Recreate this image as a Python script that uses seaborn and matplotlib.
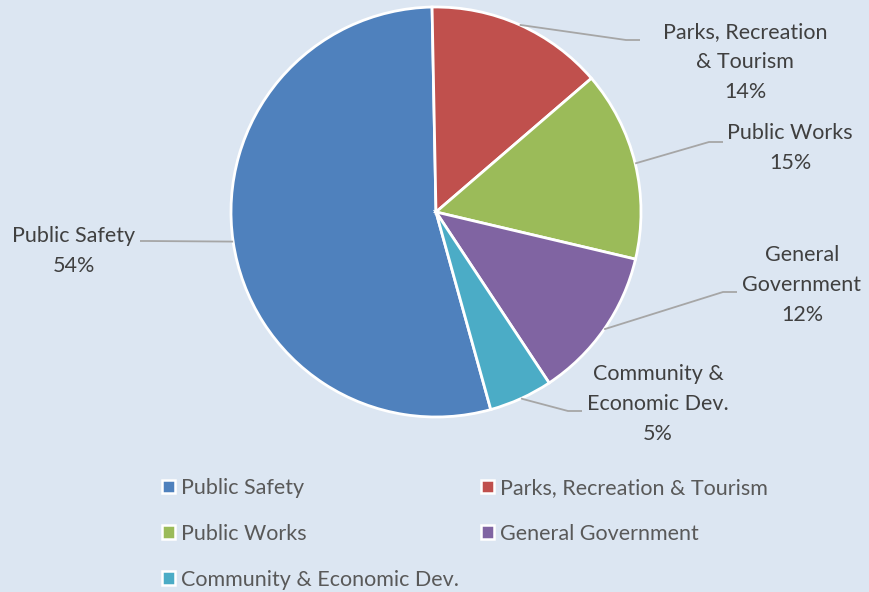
import numpy as np
import matplotlib
matplotlib.use("Agg")
import matplotlib.pyplot as plt
from matplotlib.patches import Patch
import seaborn as sns

# Budget shares by department
categories = ["Public Safety", "Parks, Recreation & Tourism", "Public Works",
              "General Government", "Community & Economic Dev."]
shares = [54, 14, 15, 12, 5]
label_names = ["Public Safety", "Parks, Recreation\n& Tourism", "Public Works",
               "General\nGovernment", "Community &\nEconomic Dev."]
colors = ["#4F81BD", "#C0504D", "#9BBB59", "#8064A2", "#4BACC6"]

BG = "#DCE6F2"
TEXT = "#404040"
LEADER = "#A6A6A6"

sns.set_theme(style="white", rc={"axes.facecolor": BG, "figure.facecolor": BG})
plt.rcParams["font.family"] = ["Lato", "DejaVu Sans"]

W, H = 870, 592
fig = plt.figure(figsize=(W / 100, H / 100), dpi=100)
ax = fig.add_axes([0, 0, 1, 1])

cx, cy, r = 436, H - 212, 205
wedges, _ = ax.pie(shares, colors=colors, startangle=285.5, counterclock=False,
                   center=(cx, cy), radius=r, frame=True,
                   wedgeprops=dict(edgecolor="white", linewidth=2))
ax.set_xlim(0, W)
ax.set_ylim(0, H)
ax.set_aspect("equal")
ax.axis("off")

# label text centre (x, y from top) and end of the leader line
label_layout = [
    ((74, 251), (140, 241), "left"),
    ((745, 62), (640, 40), "right"),
    ((790, 148), (723, 142), "right"),
    ((802, 285), (737, 292), "right"),
    ((658, 404), (582, 411), "right"),
]
fs = 15.5
for w, name, val, ((tx, ty), (ex, ey), side) in zip(wedges, label_names, shares, label_layout):
    mid = np.deg2rad((w.theta1 + w.theta2) / 2)
    px, py = cx + r * np.cos(mid), cy + r * np.sin(mid)
    ey_f = H - ey
    knee = (ex - 14, ey_f) if side == "right" else (ex + 8, ey_f)
    ax.plot([px, knee[0], ex], [py, knee[1], ey_f], color=LEADER, lw=1.3,
            solid_capstyle="butt", zorder=1)
    ax.text(tx, H - ty, f"{name}\n{val}%", ha="center", va="center",
            fontsize=fs, color=TEXT, linespacing=1.62)

# legend laid out row by row (matplotlib fills columns first)
order = [0, 2, 4, 1, 3]
handles = [Patch(facecolor=colors[i], edgecolor="white", linewidth=1.8) for i in order]
labels = [categories[i] for i in order]
ax.legend(handles, labels, ncol=2, frameon=False, loc="upper left",
          bbox_to_anchor=(162 / W, 1 - 478 / H), fontsize=fs,
          handlelength=0.6, handleheight=0.6, handletextpad=0.3,
          labelspacing=1.2, columnspacing=1.0, labelcolor="#595959",
          borderaxespad=0, borderpad=0)

fig.savefig("out.png", dpi=100, facecolor=BG)
